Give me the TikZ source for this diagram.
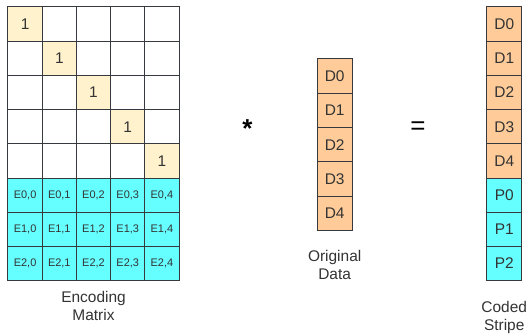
\documentclass[tikz,border=0pt]{standalone}
\usepackage{fontspec}
\setmainfont{Liberation Sans}
\newcommand*{\cellfont}{\fontsize{11}{13}\selectfont}
\newcommand*{\bigfont}{\fontsize{15.5}{18}\selectfont}
\newcommand*{\opfont}{\fontsize{26}{26}\selectfont}
\definecolor{Y}{HTML}{FFF2CC}
\definecolor{O}{HTML}{FFCC99}
\definecolor{C}{HTML}{66FFFF}
\definecolor{L}{HTML}{36393D}
\definecolor{T}{HTML}{333333}
\usepackage{tikz}
\usetikzlibrary{positioning}
\tikzstyle{base}=[x=1pt, y=-1pt, inner sep=0pt, outer sep=0pt]
\tikzstyle{cell}=[draw=L, line width=1pt, minimum width=34.3pt, minimum height=34.3pt, text=T]
\tikzstyle{caption}=[align=center, text=T, font=\bigfont]

\begin{document}
\begin{tikzpicture}[base]
    % identity part of the matrix
    \foreach \r in {0,...,4}
        \foreach \c in {0,...,4} {
            \ifnum\r=\c
                \node [cell, fill=Y, font=\bigfont] (m-\r-\c) at ({25.15+34.3*\c},{24.15+34.3*\r}) {1};
            \else
                \node [cell, fill=white] (m-\r-\c) at ({25.15+34.3*\c},{24.15+34.3*\r}) {};
            \fi
        }
    % coding rows
    \foreach \r in {0,1,2}
        \foreach \c in {0,...,4}
            \node [cell, fill=C, font=\cellfont] (e-\r-\c) at ({25.15+34.3*\c},{24.15+34.3*(\r+5)}) {E\r,\c};
    \node [caption, below=11pt of e-2-2] (enc) {Encoding\\Matrix};

    \node [text=black, font=\opfont\bfseries] (times) at (248,129) {*};

    % original data
    \foreach \i in {0,...,4}
        \node [cell, fill=O, minimum width=35pt, font=\bigfont] (d-\i) at (335.5,{76.2+34.4*\i}) {D\i};
    \node [caption, below=20pt of d-4] (orig) {Original\\Data};

    \node [text=black, font=\opfont] (equals) at (419,128) {=};

    % coded stripe
    \foreach \i in {0,...,4}
        \node [cell, fill=O, minimum width=35pt, font=\bigfont] (s-\i) at (505.5,{24.15+34.3*\i}) {D\i};
    \foreach \i in {0,1,2}
        \node [cell, fill=C, minimum width=35pt, font=\bigfont] (p-\i) at (505.5,{24.15+34.3*(\i+5)}) {P\i};
    \node [caption, below=21pt of p-2] (coded) {Coded\\Stripe};

    \path [use as bounding box] (0,0) rectangle (527,328);
\end{tikzpicture}
\end{document}
